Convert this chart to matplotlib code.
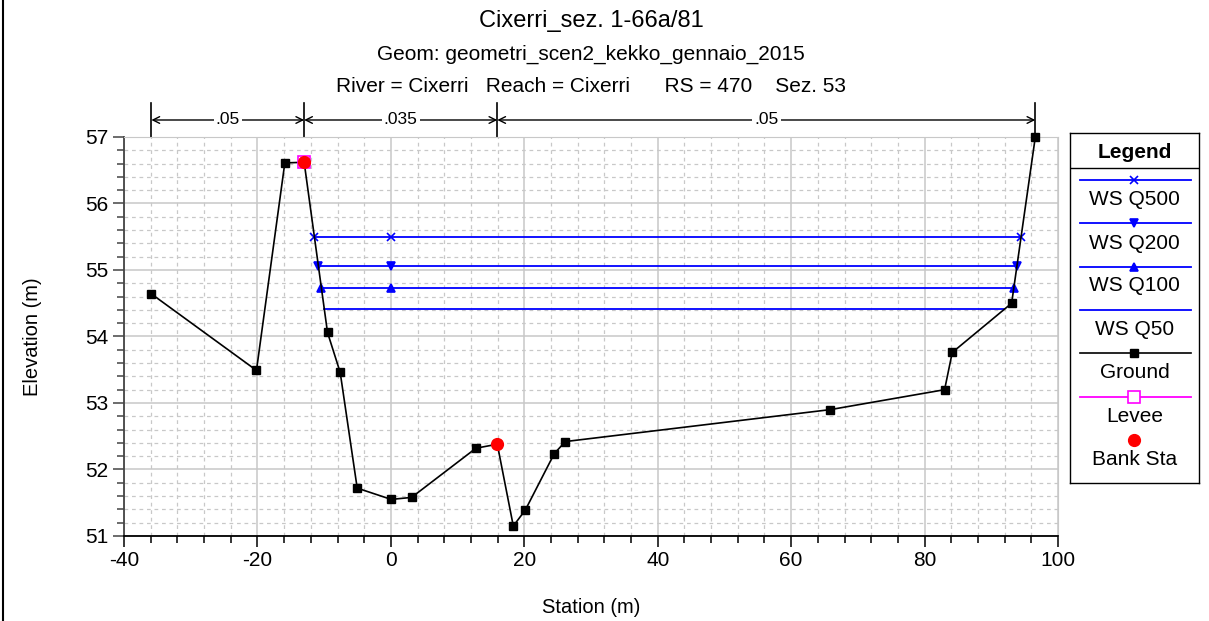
import matplotlib.pyplot as plt
from matplotlib.lines import Line2D
from matplotlib.ticker import MultipleLocator
import matplotlib.transforms as mtransforms

plt.rcParams['font.family'] = ['Liberation Sans', 'DejaVu Sans']
plt.rcParams['axes.unicode_minus'] = False

# ground profile
ground_x = [-35.9, -20.15, -15.9, -13.0, -9.5, -7.6, -5.05, 0.05, 3.1, 12.75, 15.95,
            18.35, 20.15, 24.5, 26.15, 65.85, 83.0, 84.15, 93.05, 96.6]
ground_y = [54.64, 53.49, 56.61, 56.62, 54.06, 53.46, 51.72, 51.55, 51.58, 52.32, 52.38,
            51.15, 51.39, 52.24, 52.42, 52.90, 53.20, 53.76, 54.50, 57.00]

bank_x = [-13.0, 15.95]
bank_y = [56.62, 52.38]
levee_x = [-13.0]
levee_y = [56.62]

# water surfaces: label, elevation, left / right station, marker
ws_names = ['WS Q500', 'WS Q200', 'WS Q100', 'WS Q50']
ws_elev = [55.50, 55.06, 54.73, 54.41]
ws_left = [-11.47, -10.87, -10.42, -9.98]
ws_right = [94.47, 93.85, 93.38, 91.97]
ws_marker = ['x', 'v', '^', None]

# manning n breaks
n_breaks = [-35.9, -13.0, 15.95, 96.6]
n_values = ['.05', '.035', '.05']

fig = plt.figure(figsize=(12.09, 6.21), dpi=100)
ax = fig.add_axes([0.1026, 0.1369, 0.7725, 0.6425])

grid_col = '#c8c8c8'
ax.set_xlim(-40, 100)
ax.set_ylim(51, 57)
ax.xaxis.set_major_locator(MultipleLocator(20))
ax.xaxis.set_minor_locator(MultipleLocator(4))
ax.yaxis.set_major_locator(MultipleLocator(1))
ax.yaxis.set_minor_locator(MultipleLocator(0.2))
ax.grid(which='major', color=grid_col, lw=1.1, ls='-')
ax.grid(which='minor', color=grid_col, lw=0.9, ls=(0, (3, 3)))
ax.set_axisbelow(True)
ax.spines['top'].set_color(grid_col)
ax.spines['right'].set_color(grid_col)
ax.spines['left'].set_color('#444444')
ax.spines['left'].set_linewidth(1.3)
ax.spines['bottom'].set_linewidth(1.3)
ax.tick_params(which='major', length=8, width=1.1, labelsize=15, colors='black')
ax.tick_params(which='minor', length=5, width=1.1)
ax.tick_params(axis='y', which='both', color='#444444')
ax.tick_params(axis='x', pad=3)

for name, el, xl, xr, mk in zip(ws_names, ws_elev, ws_left, ws_right, ws_marker):
    ax.plot([xl, 0, xr], [el, el, el], color='#0000ff', lw=1.3,
            marker=mk, ms=5.5, mew=1.2, zorder=3)

ax.plot(ground_x, ground_y, color='black', lw=1.2, marker='s', ms=5.5, zorder=4,
        clip_on=False)
ax.plot(levee_x, levee_y, ls='none', marker='s', ms=8, mfc='none', mec='#ff00ff',
        mew=1.2, zorder=5)
ax.plot(bank_x, bank_y, ls='none', marker='o', ms=8.5, color='red', zorder=6)

ax.set_xlabel('Station (m)', fontsize=14.5, labelpad=20)
ax.set_ylabel('Elevation (m)', fontsize=14.5, labelpad=31)

# manning n bars above the plot
trans = mtransforms.blended_transform_factory(ax.transData, ax.transAxes)
for xb in n_breaks:
    ax.plot([xb, xb], [1.0, 1.085], color='black', lw=1.2, transform=trans, clip_on=False)
for i, nv in enumerate(n_values):
    x0, x1 = n_breaks[i], n_breaks[i + 1]
    ax.annotate('', xy=(x0, 1.0426), xytext=(x1, 1.0426), xycoords=trans, textcoords=trans,
                arrowprops=dict(arrowstyle='<->', lw=1.0, color='black',
                                shrinkA=0, shrinkB=0, mutation_scale=12))
    ax.text((x0 + x1) / 2, 1.0426, nv, transform=trans, ha='center', va='center',
            fontsize=12.5, bbox=dict(facecolor='white', edgecolor='none', pad=1.5))

# titles
fig.text(0.4888, 0.966, 'Cixerri_sez. 1-66a/81', ha='center', va='center', fontsize=17)
fig.text(0.4888, 0.912, 'Geom: geometri_scen2_kekko_gennaio_2015', ha='center',
         va='center', fontsize=15)
fig.text(0.4888, 0.860, 'River = Cixerri   Reach = Cixerri      RS = 470    Sez. 53',
         ha='center', va='center', fontsize=15)

# legend box
lg = fig.add_axes([0.885, 0.2222, 0.1067, 0.5636])
lg.set_xlim(0, 1)
lg.set_ylim(0, 1)
lg.set_xticks([])
lg.set_yticks([])
for s in lg.spines.values():
    s.set_linewidth(1.0)
lg.text(0.5, 0.9457, 'Legend', ha='center', va='center', fontsize=15, fontweight='bold')
lg.plot([0, 1], [0.9, 0.9], color='black', lw=1.0)

leg_labels = ws_names + ['Ground', 'Levee', 'Bank Sta']
leg_line_y = [0.8657, 0.7429, 0.6171, 0.4943, 0.3714, 0.2457, 0.1229]
leg_text_y = [0.8114, 0.6857, 0.5657, 0.44, 0.3171, 0.1914, 0.0686]
for i, lab in enumerate(leg_labels):
    yl = leg_line_y[i]
    if i < 4:
        lg.plot([0.0775, 0.936], [yl, yl], color='#0000ff', lw=1.3)
        if ws_marker[i]:
            lg.plot([0.5], [yl], color='#0000ff', marker=ws_marker[i], ms=5.5, mew=1.2)
    elif lab == 'Ground':
        lg.plot([0.0775, 0.936], [yl, yl], color='black', lw=1.2)
        lg.plot([0.5], [yl], color='black', marker='s', ms=5.5)
    elif lab == 'Levee':
        lg.plot([0.0775, 0.936], [yl, yl], color='#ff00ff', lw=1.3)
        lg.plot([0.5], [yl], ls='none', marker='s', ms=8, mfc='white', mec='#ff00ff', mew=1.2)
    else:
        lg.plot([0.5], [yl], ls='none', marker='o', ms=8.5, color='red')
    lg.text(0.5, leg_text_y[i], lab, ha='center', va='center', fontsize=15)

# border on the left edge of the figure
fig.add_artist(Line2D([0.0025, 0.0025], [0, 1], color='black', lw=1.5))

fig.savefig('out.png', dpi=100)
